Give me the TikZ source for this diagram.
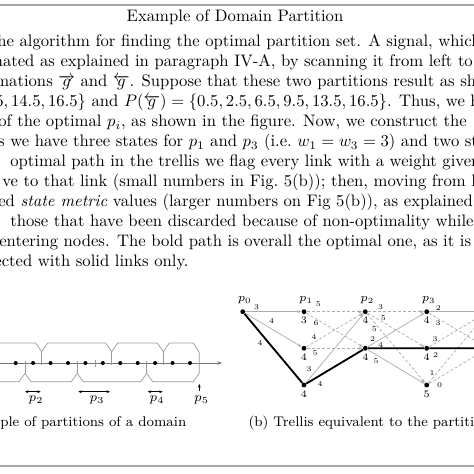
\RequirePackage{fix-cm}
\documentclass[tikz,border=0pt]{standalone}
\usetikzlibrary{arrows.meta}
\begin{document}
\begin{tikzpicture}[x=0.6pt,y=-0.6pt,
  body/.style={anchor=base west,inner sep=0pt,font=\fontsize{10}{12}\selectfont},
  captext/.style={anchor=base west,inner sep=0pt,font=\fontsize{8.4}{10}\selectfont},
  tdot/.style={circle,fill=black,inner sep=0pt,minimum size=2.9pt},
  adot/.style={circle,fill=black,inner sep=0pt,minimum size=2.4pt},
  plab/.style={inner sep=0pt,font=\fontsize{6.9}{8}\selectfont},
  alab/.style={inner sep=0pt,font=\fontsize{7.8}{9}\selectfont},
  metric/.style={inner sep=0pt,font=\fontsize{6}{7}\selectfont},
  wt/.style={inner sep=0pt,font=\fontsize{4.4}{5}\selectfont},
  glink/.style={draw=gray!65,line width=0.42pt,-{Stealth[length=2.4pt,width=1.8pt]}},
  dlink/.style={glink,dash pattern=on 1.8pt off 1.2pt},
  blink/.style={draw=black,line width=1.1pt},
  brk/.style={draw=gray!80,line width=0.42pt},
  axisline/.style={draw=gray!90!black,line width=0.42pt,-{Stealth[length=2.7pt,width=2.1pt]}},
  parr/.style={draw=black,line width=0.3pt,{Stealth[length=2.1pt,width=1.7pt]}-{Stealth[length=2.1pt,width=1.7pt]}},
  uparr/.style={draw=black,line width=0.3pt,-{Stealth[length=2.1pt,width=1.7pt]}},
  rulel/.style={draw=gray!70,line width=0.75pt}
]
\useasboundingbox (0,0) rectangle (474,474);
\clip (0,0) rectangle (474,474);

% rules
\coordinate (r1a) at (0,5); \coordinate (r1b) at (474,5);
\coordinate (r2a) at (0,466); \coordinate (r2b) at (474,466);
\draw[rulel] (r1a) -- (r1b);
\draw[rulel] (r2a) -- (r2b);

% title and body text
\node[anchor=base,inner sep=0pt,font=\fontsize{10}{12}\selectfont] (title) at (235,21.7) {Example of Domain Partition};
\node[body] (t1) at (-3,46.7) {\llap{t}he algorithm for finding the optimal partition set. A signal, which is};
\node[body] (t2) at (2.7,66.7) {\llap{estim}ated as explained in paragraph IV-A, by scanning it from left to right,};
\node[body] (t3) at (-5,86.7) {\llap{approxi}mations $\overrightarrow{g}$ and $\overleftarrow{g}$. Suppose that these two partitions result as shown};
\node[body] (t4) at (-5,106.7) {\llap{$\{0.5, 4.5, 8.5, 12.$}$5, 14.5, 16.5\}$ and $P(\overleftarrow{g}) = \{0.5, 2.5, 6.5, 9.5, 13.5, 16.5\}$. Thus, we have};
\node[body] (t5) at (-2,126.7) {\llap{partition }of the optimal $p_i$, as shown in the figure. Now, we construct the};
\node[body] (t6) at (10,146.7) {\llap{Thus }we have three states for $p_1$ and $p_3$ (i.e.\ $w_1 = w_3 = 3$) and two states};
\node[body] (t7) at (10,166.7) {optimal path in the trellis we flag every link with a weight given};
\node[body] (t8) at (2,186.7) {\llap{relati\kern2pt}ve to that link (small numbers in Fig.~5(b)); then, moving from left};
\node[body] (t9) at (-2,206.7) {\llap{accumulat}ed \emph{state metric} values (larger numbers on Fig 5(b)), as explained in};
\node[body] (t10) at (10,226.7) {those that have been discarded because of non-optimality while};
\node[body] (t11) at (-1,246.7) {\llap{the }entering nodes. The bold path is overall the optimal one, as it is};
\node[body] (t12) at (1.5,266.7) {\llap{conne}cted with solid links only.};

% ---------- figure (a) ----------
\coordinate (ax0) at (0,363); \coordinate (ax1) at (222,363);
\draw[axisline] (ax0) -- (ax1);
\draw[brk] (0,343) -- (35.7,343) -- (41.7,351.7) -- (47.7,343) -- (105.7,343) -- (111.7,351.7) -- (117.7,343)
  -- (157.3,343) -- (163.3,351.7) -- (169.3,343) -- (193.3,343) -- (199.3,352.5) -- (199.3,373) -- (193.3,381.7)
  -- (152.7,381.7) -- (146.7,373.3) -- (140.7,381.7) -- (83.3,381.7) -- (77.3,373.3) -- (71.3,381.7)
  -- (31,381.7) -- (25,373.3) -- (19,381.7) -- (0,381.7);
\draw[brk] (41.7,351.7) -- (41.7,365) (111.7,351.7) -- (111.7,365) (163.3,351.7) -- (163.3,365);
\draw[brk] (25,373.3) -- (25,361) (77.3,373.3) -- (77.3,361) (146.7,373.3) -- (146.7,361);
\draw[brk] (95,359.5) -- (95,366.5);
\foreach \k in {0,...,10} {
  \node[adot] (d\k) at (15.7+17.43*\k,363) {};
}
\coordinate (p2a) at (25,391.7); \coordinate (p2b) at (40.7,391.7);
\coordinate (p3a) at (78.3,391.7); \coordinate (p3b) at (110,391.7);
\coordinate (p4a) at (147.7,391.7); \coordinate (p4b) at (162.7,391.7);
\coordinate (p5a) at (199.3,390.5); \coordinate (p5b) at (199.3,384);
\draw[parr] (p2a) -- (p2b);
\draw[parr] (p3a) -- (p3b);
\draw[parr] (p4a) -- (p4b);
\draw[uparr] (p5a) -- (p5b);
\node[alab] (lp2) at (36,400) {$p_2$};
\node[alab] (lp3) at (97,400) {$p_3$};
\node[alab] (lp4) at (157,400) {$p_4$};
\node[alab] (lp5) at (201.5,400) {$p_5$};
\node[captext] (capa) at (0,426.7) {\llap{(a) Exam}ple of partitions of a domain};

% ---------- figure (b) ----------
\node[tdot] (n0) at (242.7,311.7) {};
\node[tdot] (n11) at (304,311.7) {};
\node[tdot] (n12) at (304,348.3) {};
\node[tdot] (n13) at (304,385) {};
\node[tdot] (n21) at (365.3,311.7) {};
\node[tdot] (n22) at (365.3,348.3) {};
\node[tdot] (n31) at (426.7,311.7) {};
\node[tdot] (n32) at (426.7,348.3) {};
\node[tdot] (n33) at (426.7,385) {};
\coordinate (n41) at (488,311.7);
\coordinate (n42) at (488,348.3);

\node[plab] (lb0) at (244.7,300) {$p_0$};
\node[plab] (lb1) at (306,300) {$p_1$};
\node[plab] (lb2) at (367.3,300) {$p_2$};
\node[plab] (lb3) at (428.7,300) {$p_3$};

\draw[glink] (n0) -- (n11);
\draw[glink] (n0) -- (n12);
\draw[dlink] (n11) -- (n21);
\draw[dlink] (n11) -- (n22);
\draw[dlink] (n12) -- (n21);
\draw[dlink] (n12) -- (n22);
\draw[glink] (n13) -- (n21);
\draw[dlink] (n21) -- (n31);
\draw[dlink] (n21) -- (n32);
\draw[dlink] (n21) -- (n33);
\draw[glink] (n22) -- (n31);
\draw[glink] (n22) -- (n33);
\draw[glink] (n31) -- (n41);
\draw[dlink] (n31) -- (n42);
\draw[dlink] (n32) -- (n41);
\draw[dlink] (n33) -- (n41);
\draw[dlink] (n33) -- (n42);
\draw[blink] (n0) -- (n13) -- (n22) -- (n32) -- (n42);

% metrics
\node[metric] (m11) at (304,320.5) {3};
\node[metric] (m12) at (304,357.3) {4};
\node[metric] (m13) at (304,394.5) {4};
\node[metric] (m21) at (365.3,320.5) {4};
\node[metric] (m22) at (365.3,357.3) {4};
\node[metric] (m31) at (426.7,320.5) {4};
\node[metric] (m32) at (426.7,357.3) {4};
\node[metric] (m33) at (426.7,394.5) {5};

% weights
\node[wt] (w1) at (256.7,306.7) {3};
\node[wt] (w2) at (271.7,321) {4};
\node[wt] (w3) at (260,342.7) {4};
\node[wt] (w4) at (318.3,304.3) {5};
\node[wt] (w5) at (316,322.7) {6};
\node[wt] (w6) at (314,337.3) {4};
\node[wt] (w7) at (315,353.3) {5};
\node[wt] (w8) at (309,369.3) {3};
\node[wt] (w9) at (320,384.3) {4};
\node[wt] (w10) at (380.7,306.7) {3};
\node[wt] (w11) at (383.3,318.3) {5};
\node[wt] (w12) at (374.3,329.3) {5};
\node[wt] (w13) at (372.7,339.3) {2};
\node[wt] (w14) at (380.7,345.5) {4};
\node[wt] (w15) at (376,361) {5};
\node[wt] (w16) at (438.3,308.5) {2};
\node[wt] (w17) at (438,323.3) {3};
\node[wt] (w18) at (435,338.8) {3};
\node[wt] (w19) at (435.5,355) {2};
\node[wt] (w20) at (432,373.5) {1};
\node[wt] (w21) at (439.5,385.5) {0};

\node[captext] (capb) at (248.3,426.7) {(b) Trellis equivalent to the partitions of Fig.~5(a)};
\end{tikzpicture}
\end{document}
